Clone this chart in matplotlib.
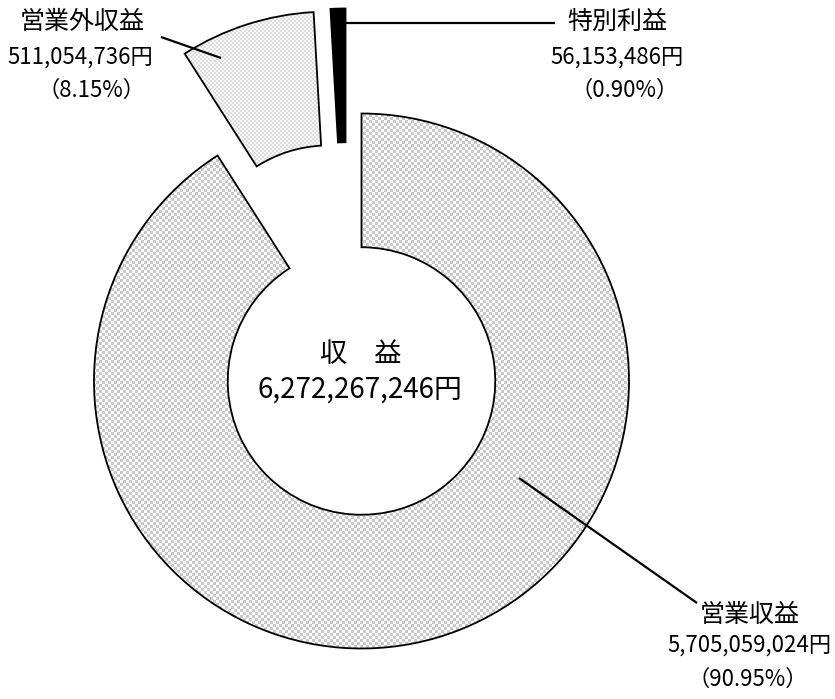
import numpy as np
import matplotlib
matplotlib.use('Agg')
import matplotlib.pyplot as plt

plt.rcParams['font.family'] = ['Noto Sans CJK JP', 'DejaVu Sans']

# ---- data ----
categories = ['営業収益', '営業外収益', '特別利益']
values = [5705059024, 511054736, 56153486]
percent_labels = ['（90.95%）', '（8.15%）', '（0.90%）']
total_value = 6272267246
center_title = '収　益'
explode = [0, 0.40, 0.39]

# ---- layout (pixels) ----
W, H = 835, 699
CX, CY, S = 361.5, 381.0, 267.5


def P(px, py):
    return ((px - CX) / S, (CY - py) / S)


fig = plt.figure(figsize=(W / 100, H / 100), dpi=100)
ax = fig.add_axes([0, 0, 1, 1])

wedges, _ = ax.pie(values, startangle=90, counterclock=False, radius=1.0,
                   explode=explode, colors=['none', 'none', 'black'],
                   wedgeprops=dict(width=0.5, edgecolor='black', linewidth=1.3))
# the small black slice sits slightly left of its bisector in the reference
wedges[2].set_center((-16 / S, 105 / S))

xmin, xmax = -CX / S, (W - CX) / S
ymin, ymax = -(H - CY) / S, CY / S

yy, xx = np.mgrid[0:H, 0:W]
chk = ((yy // 3 + xx // 3) % 2).astype(bool)
img_main = np.ones((H, W, 3))
img_main[chk] = np.array([200, 200, 200]) / 255
im1 = ax.imshow(img_main, extent=(xmin, xmax, ymin, ymax), origin='upper',
                interpolation='nearest', aspect='auto', zorder=0)
im1.set_clip_path(wedges[0])

chk2 = ((yy // 2 + xx // 2) % 2).astype(bool)
img_light = np.ones((H, W, 3)) * (248 / 255)
img_light[chk2] = np.array([222, 222, 222]) / 255
im2 = ax.imshow(img_light, extent=(xmin, xmax, ymin, ymax), origin='upper',
                interpolation='nearest', aspect='auto', zorder=0)
im2.set_clip_path(wedges[1])

ax.set_xlim(xmin, xmax)
ax.set_ylim(ymin, ymax)
ax.set_aspect('auto')
ax.axis('off')

# ---- labels ----
fs_name, fs_num = 18, 16
label_pos = {
    '営業外収益': ([82, 80, 92], [22, 57, 90]),
    '特別利益': ([617, 617, 625], [22, 57, 90]),
    '営業収益': ([750, 750, 748], [615, 645, 679]),
}
for i, cat in enumerate(categories):
    xs, ys = label_pos[cat]
    lines = [cat, f'{values[i]:,}円', percent_labels[i]]
    sizes = [fs_name, fs_num, fs_num]
    for t, xv, yv, fs in zip(lines, xs, ys, sizes):
        ax.text(*P(xv, yv), t, ha='center', va='center', fontsize=fs, color='black')

# leader lines
leaders = [((161, 37), (221, 58)), ((346, 23), (555, 23)), ((519, 478), (697, 603))]
for a, b in leaders:
    pa, pb = P(*a), P(*b)
    ax.plot([pa[0], pb[0]], [pa[1], pb[1]], color='black', lw=1.6, solid_capstyle='butt')

# centre text
ax.text(*P(361, 355), center_title, ha='center', va='center', fontsize=19.5)
ax.text(*P(360, 390), f'{total_value:,}円', ha='center', va='center', fontsize=20)

fig.savefig('out.png', dpi=100)
